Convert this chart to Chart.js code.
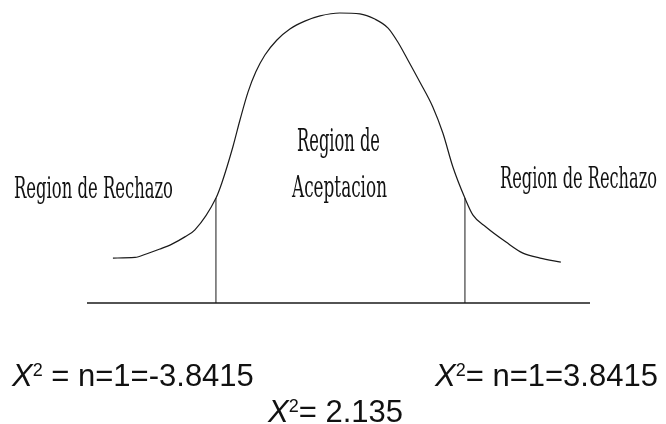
<!DOCTYPE html>
<html>
<head>
<meta charset="utf-8">
<script src="https://cdn.jsdelivr.net/npm/chart.js@4/dist/chart.umd.min.js"></script>
<style>
  html, body { margin: 0; padding: 0; background: #ffffff; }
  #wrap { width: 666px; height: 424px; }
</style>
</head>
<body>
<div id="wrap"><canvas id="c" width="666" height="424"></canvas></div>
<script>
// ---- data ----
const curveX = [-7.02, -6.34, -5.97, -5.57, -5.20, -4.80, -4.49, -3.84, -3.66, -3.32, -3.10, -2.85, -2.61, -2.33, -1.96, -1.56, -1.10, -0.63, -0.02, 0.60, 1.06, 1.47, 1.77, 2.08, 2.45, 2.85, 3.16, 3.47, 3.84, 4.09, 4.49, 5.11, 5.63, 6.16, 6.80];
const curveY = [0.155, 0.157, 0.170, 0.186, 0.203, 0.228, 0.252, 0.362, 0.414, 0.538, 0.631, 0.728, 0.797, 0.855, 0.907, 0.945, 0.972, 0.990, 1.000, 0.997, 0.979, 0.948, 0.900, 0.838, 0.762, 0.676, 0.586, 0.469, 0.362, 0.303, 0.262, 0.210, 0.172, 0.155, 0.141];
const criticalValues = [-3.8415, 3.8415];
const criticalHeights = [0.362, 0.362];
const baselineRange = [-7.82, 7.70];
const regionLabels = ["Region de Rechazo", "Region de", "Aceptacion", "Region de Rechazo"];
const statLabels = [
  { sym: "X", sup: "2", rest: " = n=1=-3.8415" },
  { sym: "X", sup: "2", rest: "= n=1=3.8415" },
  { sym: "X", sup: "2", rest: "= 2.135" }
];

// ---- chart ----
const ink = "#1a1a1a";
const curveData = curveX.map((x, i) => ({ x: x, y: curveY[i] }));
const baselineData = baselineRange.map(x => ({ x: x, y: 0 }));
const criticalSets = criticalValues.map((v, i) => ({
  data: [{ x: v, y: 0 }, { x: v, y: criticalHeights[i] }],
  borderColor: ink, borderWidth: 1, pointRadius: 0, clip: false, tension: 0
}));

const textPlugin = {
  id: "texts",
  afterDraw(chart) {
    const ctx = chart.ctx;
    ctx.save();
    ctx.fillStyle = "#111";
    ctx.textBaseline = "alphabetic";
    ctx.textAlign = "left";
    const serifSpots = [
      { x: 14, y: 198, w: 159, size: 30 },
      { x: 297, y: 151, w: 83, size: 32 },
      { x: 292, y: 197, w: 95, size: 30 },
      { x: 500, y: 188, w: 157, size: 30 }
    ];
    regionLabels.forEach((t, i) => {
      const s = serifSpots[i];
      ctx.font = s.size + "px 'DejaVu Serif'";
      ctx.fillText(t, s.x, s.y, s.w);
    });
    const statSpots = [
      { x: 12, y: 386 },
      { x: 435, y: 386 },
      { x: 268, y: 422 }
    ];
    statLabels.forEach((t, i) => {
      const s = statSpots[i];
      let x = s.x;
      ctx.font = "italic 31px 'Liberation Sans'";
      ctx.fillText(t.sym, x, s.y);
      x += ctx.measureText(t.sym).width;
      ctx.font = "18px 'Liberation Sans'";
      ctx.fillText(t.sup, x, s.y - 10);
      x += ctx.measureText(t.sup).width;
      ctx.font = "31px 'Liberation Sans'";
      ctx.fillText(t.rest, x, s.y);
    });
    ctx.restore();
  }
};

new Chart(document.getElementById("c"), {
  type: "line",
  data: {
    datasets: [
      { data: curveData, borderColor: ink, borderWidth: 1.2, pointRadius: 0, cubicInterpolationMode: "monotone", clip: false },
      { data: baselineData, borderColor: ink, borderWidth: 1.6, pointRadius: 0, clip: false },
      ...criticalSets
    ]
  },
  options: {
    responsive: false,
    animation: false,
    devicePixelRatio: 1,
    layout: { padding: { left: 87, right: 76, top: 13, bottom: 121 } },
    plugins: { legend: { display: false }, tooltip: { enabled: false } },
    scales: {
      x: { type: "linear", display: false, min: baselineRange[0], max: baselineRange[1] },
      y: { type: "linear", display: false, min: 0, max: 1 }
    }
  },
  plugins: [textPlugin]
});
</script>
</body>
</html>
